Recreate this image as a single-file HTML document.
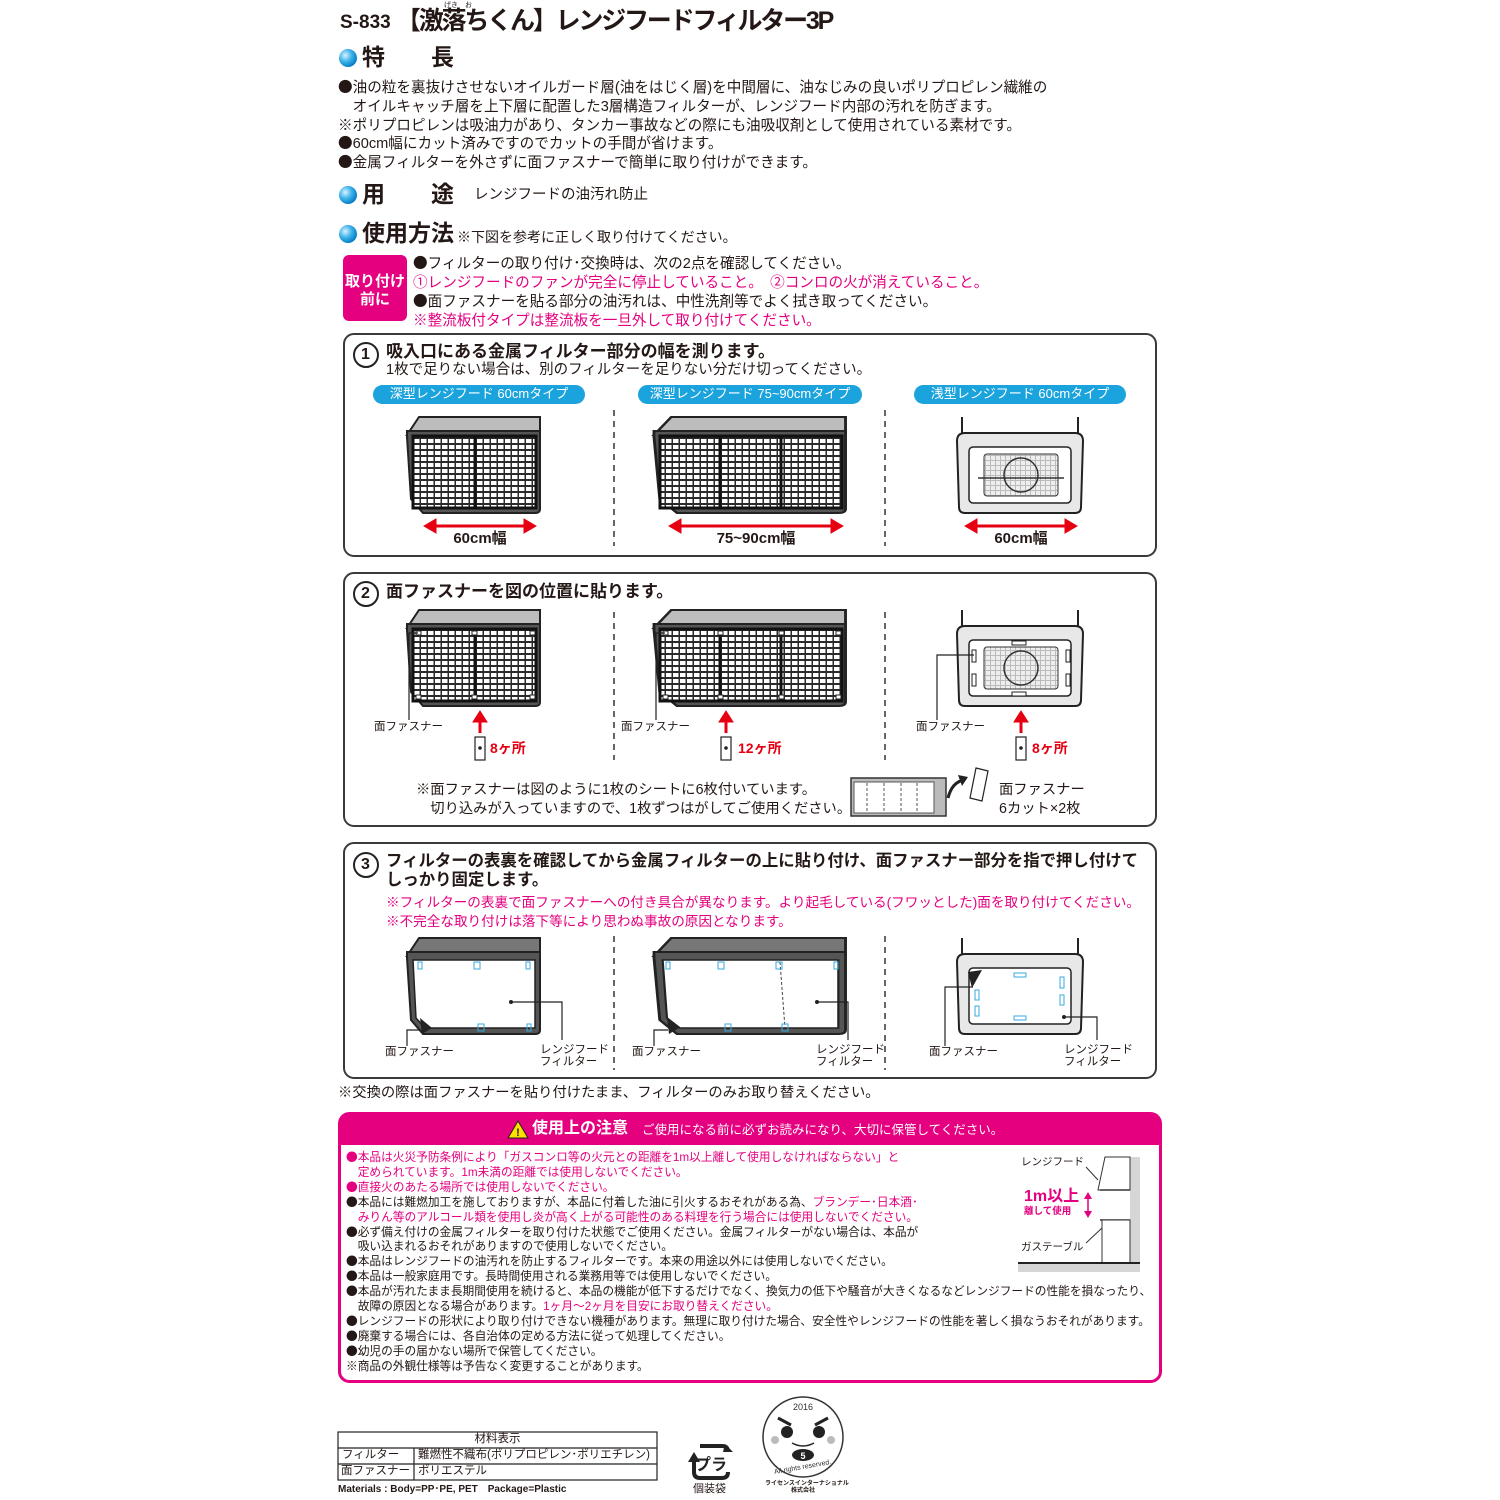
<!DOCTYPE html>
<html><head><meta charset="utf-8">
<style>
*{margin:0;padding:0;box-sizing:border-box}
body{width:1500px;height:1500px;background:#fff;position:relative;overflow:hidden;font-family:"Liberation Sans","Noto Sans CJK JP",sans-serif;color:#231815}
.t{position:absolute;white-space:nowrap;line-height:1}
.p{color:#e4007f}
.b{font-weight:bold}
i{font-style:normal;font-family:"Noto Sans CJK JP",sans-serif;line-height:0}
svg{position:absolute;left:0;top:0}
</style></head><body>
<svg width="1500" height="1500" viewBox="0 0 1500 1500">
<defs>
<radialGradient id="bl" cx="0.35" cy="0.35" r="0.7"><stop offset="0" stop-color="#d8f2ff"/><stop offset="0.5" stop-color="#3fb4ea"/><stop offset="1" stop-color="#0079c2"/></radialGradient>
<pattern id="grid" width="7" height="6" patternUnits="userSpaceOnUse"><rect width="7" height="6" fill="#2a2a2a"/><rect x="1" y="1" width="5.5" height="4" fill="#fff"/></pattern>
<pattern id="cage" width="5" height="5" patternUnits="userSpaceOnUse"><rect width="5" height="5" fill="#bbb"/><rect x="1" y="1" width="4" height="4" fill="#eee"/></pattern>
<g id="deep">
 <path d="M12,0 L133,0 L133,16 L0,18 Z" fill="#bdbdbd" stroke="#222" stroke-width="2"/>
 <path d="M0,14 L133,14 L133,92 Q133,96 128,96 L16,96 L4,82 L0,20 Z" fill="#555" stroke="#222" stroke-width="2"/>
</g>
<g id="deep3">
 <path d="M12,0 L133,0 L133,16 L0,18 Z" fill="#777" stroke="#222" stroke-width="2"/>
 <path d="M0,14 L133,14 L133,92 Q133,96 128,96 L16,96 L4,82 L0,20 Z" fill="#555" stroke="#222" stroke-width="2"/>
 <path d="M6,22 L128,22 L128,90 L18,90 L9,80 Z" fill="#fff" stroke="#222" stroke-width="1.5"/>
</g>
<g id="shallow">
 <line x1="5" y1="0" x2="5" y2="18" stroke="#222" stroke-width="2"/><line x1="121" y1="0" x2="121" y2="18" stroke="#222" stroke-width="2"/>
 <path d="M0,24 Q0,16 8,16 L118,16 Q126,16 126,24 L124,90 Q124,96 118,96 L8,96 Q2,96 2,90 Z" fill="#e8e8e8" stroke="#222" stroke-width="2"/>
 <rect x="12" y="30" width="102" height="56" rx="4" fill="#fff" stroke="#222" stroke-width="1.5"/>
</g>
</defs>

<circle cx="348" cy="58" r="9" fill="url(#bl)"/>
<circle cx="348" cy="195" r="9" fill="url(#bl)"/>
<circle cx="348" cy="234" r="9" fill="url(#bl)"/>
<rect x="343" y="255" width="64" height="66" rx="6" fill="#e4007f"/>

<rect x="344" y="334" width="812" height="222" rx="10" fill="none" stroke="#3a3a3a" stroke-width="2"/>
<rect x="344" y="573" width="812" height="253" rx="10" fill="none" stroke="#3a3a3a" stroke-width="2"/>
<rect x="344" y="843" width="812" height="235" rx="10" fill="none" stroke="#3a3a3a" stroke-width="2"/>
<circle cx="366" cy="355" r="12" fill="#fff" stroke="#222" stroke-width="2"/>
<circle cx="366" cy="594" r="12" fill="#fff" stroke="#222" stroke-width="2"/>
<circle cx="366" cy="865" r="12" fill="#fff" stroke="#222" stroke-width="2"/>

<rect x="373" y="385" width="212" height="19" rx="9.5" fill="#1aa3dc"/>
<rect x="638" y="385" width="224" height="19" rx="9.5" fill="#1aa3dc"/>
<rect x="914" y="385" width="212" height="19" rx="9.5" fill="#1aa3dc"/>

<g stroke="#333" stroke-width="1.5" stroke-dasharray="6,5">
<line x1="614" y1="410" x2="614" y2="546"/><line x1="885" y1="410" x2="885" y2="546"/>
<line x1="614" y1="612" x2="614" y2="760"/><line x1="885" y1="612" x2="885" y2="760"/>
<line x1="614" y1="936" x2="614" y2="1070"/><line x1="885" y1="936" x2="885" y2="1070"/>
</g>

<use href="#deep" x="407" y="417"/>
<rect x="413" y="436" width="123" height="72" fill="url(#grid)" stroke="#111" stroke-width="3"/>
<line x1="475" y1="436" x2="475" y2="508" stroke="#111" stroke-width="3"/>
<g transform="translate(654,417) scale(1.44,1)"><use href="#deep"/></g>
<rect x="660" y="436" width="182" height="72" fill="url(#grid)" stroke="#111" stroke-width="3"/>
<line x1="720" y1="436" x2="720" y2="508" stroke="#111" stroke-width="3"/><line x1="781" y1="436" x2="781" y2="508" stroke="#111" stroke-width="3"/>
<use href="#shallow" x="957" y="417"/>
<rect x="984" y="454" width="74" height="42" rx="3" fill="url(#cage)" stroke="#333"/>
<circle cx="1021" cy="475" r="17" fill="none" stroke="#333" stroke-width="1.5"/>
<line x1="978" y1="478" x2="1064" y2="478" stroke="#333" stroke-width="1.5"/>

<g fill="#e60012" stroke="#e60012">
<line x1="432" y1="526" x2="528" y2="526" stroke-width="3"/><path d="M424,526 L436,519 L436,533Z"/><path d="M536,526 L524,519 L524,533Z"/>
<line x1="677" y1="526" x2="835" y2="526" stroke-width="3"/><path d="M669,526 L681,519 L681,533Z"/><path d="M843,526 L831,519 L831,533Z"/>
<line x1="973" y1="526" x2="1069" y2="526" stroke-width="3"/><path d="M965,526 L977,519 L977,533Z"/><path d="M1077,526 L1065,519 L1065,533Z"/>
</g>

<use href="#deep" x="407" y="610"/>
<rect x="413" y="629" width="123" height="72" fill="url(#grid)" stroke="#111" stroke-width="3"/>
<line x1="475" y1="629" x2="475" y2="701" stroke="#111" stroke-width="3"/>
<g transform="translate(654,610) scale(1.44,1)"><use href="#deep"/></g>
<rect x="660" y="629" width="182" height="72" fill="url(#grid)" stroke="#111" stroke-width="3"/>
<line x1="720" y1="629" x2="720" y2="701" stroke="#111" stroke-width="3"/><line x1="781" y1="629" x2="781" y2="701" stroke="#111" stroke-width="3"/>
<use href="#shallow" x="957" y="610"/>
<rect x="984" y="647" width="74" height="42" rx="3" fill="url(#cage)" stroke="#333"/>
<circle cx="1021" cy="668" r="17" fill="none" stroke="#333" stroke-width="1.5"/>
<g fill="#fff" stroke="#222" stroke-width="1">
<rect x="416" y="631" width="5" height="4"/><rect x="472" y="631" width="5" height="4"/><rect x="530" y="631" width="5" height="4"/><rect x="416" y="695" width="5" height="4"/><rect x="472" y="695" width="5" height="4"/><rect x="530" y="695" width="5" height="4"/>
<rect x="663" y="631" width="5" height="4"/><rect x="718" y="631" width="5" height="4"/><rect x="779" y="631" width="5" height="4"/><rect x="836" y="631" width="5" height="4"/><rect x="663" y="695" width="5" height="4"/><rect x="718" y="695" width="5" height="4"/><rect x="779" y="695" width="5" height="4"/><rect x="836" y="695" width="5" height="4"/>
<rect x="1012" y="641" width="14" height="4"/><rect x="1012" y="692" width="14" height="4"/><rect x="972" y="650" width="4" height="12"/><rect x="972" y="674" width="4" height="12"/><rect x="1066" y="650" width="4" height="12"/><rect x="1066" y="674" width="4" height="12"/>
</g>
<g fill="none" stroke="#222" stroke-width="1.2">
<path d="M418,633 L409,633 L409,720"/><path d="M665,633 L656,633 L656,720"/><path d="M974,655 L937,655 L937,720"/>
<rect x="475" y="737" width="10" height="23"/><rect x="721" y="737" width="10" height="23"/><rect x="1016" y="737" width="10" height="23"/>
</g>
<g fill="#222"><circle cx="480" cy="748" r="1.8"/><circle cx="726" cy="748" r="1.8"/><circle cx="1021" cy="748" r="1.8"/></g>
<g fill="#e60012" stroke="#e60012">
<line x1="480" y1="720" x2="480" y2="733" stroke-width="3"/><path d="M480,711 L473,722 L487,722Z"/>
<line x1="726" y1="720" x2="726" y2="733" stroke-width="3"/><path d="M726,711 L719,722 L733,722Z"/>
<line x1="1021" y1="720" x2="1021" y2="733" stroke-width="3"/><path d="M1021,711 L1014,722 L1028,722Z"/>
</g>
<rect x="851" y="778" width="95" height="38" fill="#bbb" stroke="#333" stroke-width="1.5"/>
<rect x="854" y="782" width="80" height="31" fill="#fff" stroke="#555"/>
<g stroke="#555" stroke-dasharray="3,2"><line x1="867" y1="783" x2="867" y2="812"/><line x1="884" y1="783" x2="884" y2="812"/><line x1="901" y1="783" x2="901" y2="812"/><line x1="917" y1="783" x2="917" y2="812"/></g>
<path d="M948,798 Q952,782 964,780" fill="none" stroke="#222" stroke-width="3"/><path d="M968,777 L958,775 L962,786Z" fill="#222"/>
<path d="M976,768 L988,771 L982,801 L970,798Z" fill="#fff" stroke="#222" stroke-width="1.2"/>

<use href="#deep3" x="407" y="938"/>
<g transform="translate(654,938) scale(1.44,1)"><use href="#deep3"/></g>
<line x1="780" y1="962" x2="785" y2="1028" stroke="#444" stroke-dasharray="3,2"/>
<use href="#shallow" x="957" y="938"/>
<g fill="none" stroke="#39a9e0" stroke-width="1">
<rect x="418" y="962" width="4" height="7"/><rect x="474" y="962" width="6" height="7"/><rect x="526" y="962" width="4" height="7"/><rect x="478" y="1024" width="6" height="7"/><rect x="527" y="1024" width="4" height="7"/>
<rect x="666" y="962" width="4" height="7"/><rect x="718" y="962" width="6" height="7"/><rect x="776" y="962" width="6" height="7"/><rect x="834" y="962" width="4" height="7"/><rect x="725" y="1024" width="6" height="7"/><rect x="782" y="1024" width="6" height="7"/>
<rect x="1014" y="973" width="12" height="4"/><rect x="1014" y="1016" width="12" height="4"/><rect x="1060" y="977" width="4" height="11"/><rect x="1060" y="995" width="4" height="10"/><rect x="975" y="990" width="4" height="10"/><rect x="975" y="1006" width="4" height="10"/>
</g>
<g fill="none" stroke="#222" stroke-width="1.2">
<path d="M421,1030 L407,1030 L407,1046"/><path d="M668,1030 L654,1030 L654,1046"/><path d="M973,987 L945,987 L945,1046"/>
<path d="M511,1002 L562,1002 L562,1040"/><path d="M817,1002 L848,1002 L848,1040"/><path d="M1064,1017 L1097,1017 L1097,1040"/>
</g>
<g fill="#222"><circle cx="511" cy="1002" r="2"/><circle cx="817" cy="1002" r="2"/><circle cx="1064" cy="1017" r="2"/>
<path d="M420,1018 L432,1028 L422,1034Z"/><path d="M667,1018 L679,1028 L669,1034Z"/><path d="M968,972 L982,970 L972,988Z"/></g>

<rect x="339.5" y="1113.5" width="821" height="268" rx="10" fill="#fff" stroke="#e4007f" stroke-width="3"/>
<path d="M339.5,1145 L339.5,1123 Q339.5,1113.5 349.5,1113.5 L1150.5,1113.5 Q1160.5,1113.5 1160.5,1123 L1160.5,1145 Z" fill="#e4007f"/>
<path d="M518,1121 L528,1138 L508,1138Z" fill="#ffe100" stroke="#222" stroke-width="1"/>
<text x="518" y="1136" font-size="11" font-weight="bold" text-anchor="middle" fill="#222" font-family="Liberation Sans">!</text>
<rect x="1018" y="1157" width="122" height="115" fill="#d6d6d6"/>
<rect x="1018" y="1157" width="112" height="106" fill="#fff"/>
<path d="M1105,1157 L1130,1157 L1130,1190 L1098,1190 Z" fill="#fff" stroke="#333"/>
<line x1="1100" y1="1190" x2="1130" y2="1190" stroke="#333" stroke-width="1.5"/>
<line x1="1100" y1="1220" x2="1130" y2="1220" stroke="#333" stroke-width="1.5"/>
<rect x="1102" y="1220" width="28" height="43" fill="#fff" stroke="#333"/>
<line x1="1018" y1="1263" x2="1140" y2="1263" stroke="#222" stroke-width="2"/>
<line x1="1086" y1="1167" x2="1098" y2="1180" stroke="#333"/>
<line x1="1086" y1="1243" x2="1102" y2="1228" stroke="#333"/>
<line x1="1088" y1="1196" x2="1088" y2="1214" stroke="#e4007f" stroke-width="1.5"/><path d="M1088,1192 L1084,1199 L1092,1199Z M1088,1218 L1084,1211 L1092,1211Z" fill="#e4007f"/>

<g fill="none" stroke="#222" stroke-width="1.2">
<rect x="338" y="1432" width="319" height="48"/><line x1="338" y1="1448" x2="657" y2="1448"/><line x1="338" y1="1464" x2="657" y2="1464"/><line x1="414" y1="1448" x2="414" y2="1480"/>
</g>
<g fill="none" stroke="#222" stroke-width="4">
<path d="M700,1446 L722,1446 Q728,1446 728,1452"/><path d="M694,1462 L694,1472 Q694,1478 700,1478 L722,1478 Q728,1478 728,1472"/>
</g>
<path d="M725,1444 L733,1452 L723,1452Z" fill="#222"/><path d="M694,1452 L688,1462 L700,1462Z" fill="#222"/>
<text x="711" y="1470" font-size="16" font-weight="bold" text-anchor="middle" font-family="Noto Sans CJK JP" fill="#222">プラ</text>
<circle cx="803" cy="1437" r="40" fill="#fff" stroke="#333" stroke-width="1.5"/>
<text x="803" y="1410" font-size="9" text-anchor="middle" fill="#333" font-family="Liberation Sans">2016</text>
<path d="M778,1418 L791,1425 M828,1418 L815,1425" stroke="#222" stroke-width="3"/>
<circle cx="787" cy="1432" r="6" fill="#222"/><circle cx="819" cy="1432" r="6" fill="#222"/>
<circle cx="775" cy="1440" r="4" fill="#bbb"/><circle cx="831" cy="1440" r="4" fill="#bbb"/>
<path d="M792,1443 Q803,1449 814,1443" fill="none" stroke="#222" stroke-width="1.5"/>
<ellipse cx="803" cy="1455" rx="11" ry="6" fill="#222"/>
<text x="803" y="1459" font-size="9" font-weight="bold" text-anchor="middle" fill="#fff" font-family="Liberation Sans">5</text>
<text x="803" y="1469" font-size="7" text-anchor="middle" fill="#333" font-family="Liberation Sans" transform="rotate(-10 803 1469)">All rights reserved.</text>
</svg>

<div class="t b" style="left:340px;top:13px;font-size:19px">S-833</div>
<div class="t b" style="left:396px;top:9px;font-size:25px;letter-spacing:-2.2px">【激落ちくん】レンジフードフィルター3P</div>
<div class="t" style="left:444px;top:2px;font-size:7px">げき　お</div>
<div class="t b" style="left:362px;top:46px;font-size:23px">特　　長</div>
<div class="t" style="left:338px;top:79px;font-size:14.6px;line-height:18.8px"><i>●</i>油の粒を裏抜けさせないオイルガード層(油をはじく層)を中間層に、油なじみの良いポリプロピレン繊維の<br>　オイルキャッチ層を上下層に配置した3層構造フィルターが、レンジフード内部の汚れを防ぎます。<br>※ポリプロピレンは吸油力があり、タンカー事故などの際にも油吸収剤として使用されている素材です。<br><i>●</i>60cm幅にカット済みですのでカットの手間が省けます。<br><i>●</i>金属フィルターを外さずに面ファスナーで簡単に取り付けができます。</div>
<div class="t b" style="left:362px;top:183px;font-size:23px">用　　途</div>
<div class="t" style="left:474px;top:188px;font-size:14.5px">レンジフードの油汚れ防止</div>
<div class="t b" style="left:362px;top:222px;font-size:23px">使用方法</div>
<div class="t" style="left:457px;top:230px;font-size:14px">※下図を参考に正しく取り付けてください。</div>
<div class="t b" style="left:345px;top:273px;font-size:15px;color:#fff;line-height:18px;text-align:center;width:60px">取り付け<br>前に</div>
<div class="t" style="left:413px;top:255px;font-size:14.6px;line-height:19px"><i>●</i>フィルターの取り付け･交換時は、次の2点を確認してください。<br><span class="p">①レンジフードのファンが完全に停止していること。　②コンロの火が消えていること。</span><br><i>●</i>面ファスナーを貼る部分の油汚れは、中性洗剤等でよく拭き取ってください。<br><span class="p">※整流板付タイプは整流板を一旦外して取り付けてください。</span></div>

<div class="t" style="left:361px;top:347px;font-size:16px;font-weight:bold">1</div>
<div class="t b" style="left:386px;top:343px;font-size:17px">吸入口にある金属フィルター部分の幅を測ります。</div>
<div class="t" style="left:386px;top:363px;font-size:14.5px">1枚で足りない場合は、別のフィルターを足りない分だけ切ってください。</div>
<div class="t" style="left:373px;top:387px;width:212px;text-align:center;font-size:13px;color:#fff">深型レンジフード 60cmタイプ</div>
<div class="t" style="left:638px;top:387px;width:224px;text-align:center;font-size:13px;color:#fff">深型レンジフード 75~90cmタイプ</div>
<div class="t" style="left:914px;top:387px;width:212px;text-align:center;font-size:13px;color:#fff">浅型レンジフード 60cmタイプ</div>
<div class="t b" style="left:430px;top:531px;width:100px;text-align:center;font-size:15px">60cm幅</div>
<div class="t b" style="left:696px;top:531px;width:120px;text-align:center;font-size:15px">75~90cm幅</div>
<div class="t b" style="left:971px;top:531px;width:100px;text-align:center;font-size:15px">60cm幅</div>

<div class="t" style="left:361px;top:586px;font-size:16px;font-weight:bold">2</div>
<div class="t b" style="left:386px;top:583px;font-size:17px">面ファスナーを図の位置に貼ります。</div>
<div class="t" style="left:374px;top:722px;font-size:11.5px">面ファスナー</div>
<div class="t" style="left:621px;top:722px;font-size:11.5px">面ファスナー</div>
<div class="t" style="left:916px;top:722px;font-size:11.5px">面ファスナー</div>
<div class="t b" style="left:490px;top:741px;font-size:14px;color:#e60012">8ヶ所</div>
<div class="t b" style="left:738px;top:741px;font-size:14px;color:#e60012">12ヶ所</div>
<div class="t b" style="left:1032px;top:741px;font-size:14px;color:#e60012">8ヶ所</div>
<div class="t" style="left:416px;top:781px;font-size:14.3px;line-height:19px">※面ファスナーは図のように1枚のシートに6枚付いています。<br>　切り込みが入っていますので、1枚ずつはがしてご使用ください。</div>
<div class="t" style="left:999px;top:781px;font-size:14.3px;line-height:19px">面ファスナー<br>6カット×2枚</div>

<div class="t" style="left:361px;top:857px;font-size:16px;font-weight:bold">3</div>
<div class="t b" style="left:386px;top:852px;font-size:16.4px;line-height:19px">フィルターの表裏を確認してから金属フィルターの上に貼り付け、面ファスナー部分を指で押し付けて<br>しっかり固定します。</div>
<div class="t p" style="left:386px;top:893px;font-size:13.6px;line-height:19px">※フィルターの表裏で面ファスナーへの付き具合が異なります。より起毛している(フワッとした)面を取り付けてください。<br>※不完全な取り付けは落下等により思わぬ事故の原因となります。</div>
<div class="t" style="left:385px;top:1047px;font-size:11.5px">面ファスナー</div>
<div class="t" style="left:540px;top:1044px;font-size:11.5px;line-height:12px">レンジフード<br>フィルター</div>
<div class="t" style="left:632px;top:1047px;font-size:11.5px">面ファスナー</div>
<div class="t" style="left:816px;top:1044px;font-size:11.5px;line-height:12px">レンジフード<br>フィルター</div>
<div class="t" style="left:929px;top:1047px;font-size:11.5px">面ファスナー</div>
<div class="t" style="left:1064px;top:1044px;font-size:11.5px;line-height:12px">レンジフード<br>フィルター</div>
<div class="t" style="left:338px;top:1086px;font-size:14.3px">※交換の際は面ファスナーを貼り付けたまま、フィルターのみお取り替えください。</div>

<div class="t b" style="left:532px;top:1121px;font-size:16px;color:#fff">使用上の注意</div>
<div class="t" style="left:642px;top:1124px;font-size:12.5px;color:#fff">ご使用になる前に必ずお読みになり、大切に保管してください。</div>
<div class="t" style="left:346px;top:1151px;font-size:11.7px;line-height:14.9px"><span class="p"><i>●</i>本品は火災予防条例により「ガスコンロ等の火元との距離を1m以上離して使用しなければならない」と<br>　定められています。1m未満の距離では使用しないでください。<br><i>●</i>直接火のあたる場所では使用しないでください。</span><br><i>●</i>本品には難燃加工を施しておりますが、本品に付着した油に引火するおそれがある為、<span class="p">ブランデー･日本酒･<br>　みりん等のアルコール類を使用し炎が高く上がる可能性のある料理を行う場合には使用しないでください。</span><br><i>●</i>必ず備え付けの金属フィルターを取り付けた状態でご使用ください。金属フィルターがない場合は、本品が<br>　吸い込まれるおそれがありますので使用しないでください。<br><i>●</i>本品はレンジフードの油汚れを防止するフィルターです。本来の用途以外には使用しないでください。<br><i>●</i>本品は一般家庭用です。長時間使用される業務用等では使用しないでください。<br><i>●</i>本品が汚れたまま長期間使用を続けると、本品の機能が低下するだけでなく、換気力の低下や騒音が大きくなるなどレンジフードの性能を損なったり、<br>　故障の原因となる場合があります。<span class="p">1ヶ月～2ヶ月を目安にお取り替えください。</span><br><i>●</i>レンジフードの形状により取り付けできない機種があります。無理に取り付けた場合、安全性やレンジフードの性能を著しく損なうおそれがあります。<br><i>●</i>廃棄する場合には、各自治体の定める方法に従って処理してください。<br><i>●</i>幼児の手の届かない場所で保管してください。<br>※商品の外観仕様等は予告なく変更することがあります。</div>
<div class="t" style="left:1021px;top:1157px;font-size:10.5px">レンジフード</div>
<div class="t b p" style="left:1024px;top:1189px;font-size:16px">1m以上</div>
<div class="t b p" style="left:1024px;top:1207px;font-size:9.5px">離して使用</div>
<div class="t" style="left:1021px;top:1242px;font-size:10.5px">ガステーブル</div>

<div class="t" style="left:338px;top:1434px;width:319px;text-align:center;font-size:11.5px">材料表示</div>
<div class="t" style="left:342px;top:1450px;font-size:11.5px">フィルター</div>
<div class="t" style="left:418px;top:1450px;font-size:11.5px">難燃性不織布(ポリプロピレン･ポリエチレン)</div>
<div class="t" style="left:341px;top:1466px;font-size:11.5px">面ファスナー</div>
<div class="t" style="left:418px;top:1466px;font-size:11.5px">ポリエステル</div>
<div class="t b" style="left:338px;top:1485px;font-size:10px">Materials : Body=PP･PE, PET　Package=Plastic</div>
<div class="t" style="left:693px;top:1484px;font-size:11px">個装袋</div>
<div class="t b" style="left:765px;top:1481px;width:76px;text-align:center;font-size:6px;line-height:7px">ライセンスインターナショナル<br>株式会社</div>
</body></html>
